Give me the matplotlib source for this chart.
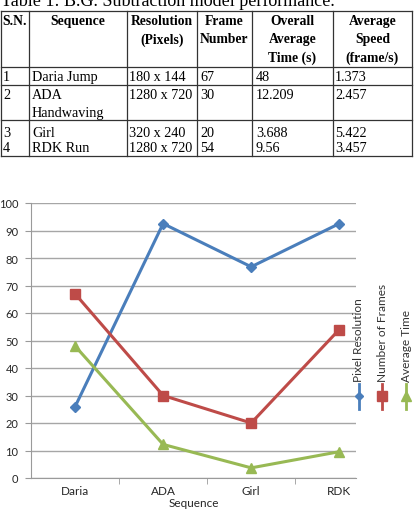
import numpy as np
import matplotlib
matplotlib.use("Agg")
import matplotlib.pyplot as plt
from matplotlib.lines import Line2D

# table data
title = "Table 1: B.G. Subtraction model performance."
headers = ["S.N.", "Sequence", "Resolution\n(Pixels)", "Frame\nNumber",
           "Overall\nAverage\nTime (s)", "Average\nSpeed\n(frame/s)"]
sn = ["1", "2", "3", "4"]
seq_names = ["Daria Jump", "ADA\nHandwaving", "Girl", "RDK Run"]
resolutions = ["180 x 144", "1280 x 720", "320 x 240", "1280 x 720"]
frame_numbers = ["67", "30", "20", "54"]
avg_times = ["48", "12.209", "3.688", "9.56"]
avg_speeds = ["1.373", "2.457", "5.422", "3.457"]

# chart data
categories = ["Daria", "ADA", "Girl", "RDK"]
pixel_resolution = [25.9, 92.5, 76.8, 92.5]
number_of_frames = [67, 30, 20, 54]
average_time = [48, 12.209, 3.688, 9.56]

W, H = 416, 510
fig = plt.figure(figsize=(W / 100, H / 100), dpi=100)

# ---- table, drawn in pixel coordinates ----
tab = fig.add_axes([0, 1 - 160 / H, 1, 160 / H])
tab.set_xlim(0, W)
tab.set_ylim(160, 0)
tab.axis("off")

serif = "Liberation Serif"
tab.text(1, 6, title, fontsize=13, family=serif, va="baseline", ha="left", clip_on=False)

col_x = [1, 29, 127, 197, 252, 333, 412]
row_y = [12, 68, 86, 121, 157]
lc = "#333333"
for x in col_x:
    tab.plot([x, x], [row_y[0], row_y[-1]], color=lc, lw=0.9)
for y in row_y:
    tab.plot([col_x[0], col_x[-1]], [y, y], color=lc, lw=0.9)

for i, h in enumerate(headers):
    if i == 0:
        tab.text(2, 15, h, fontsize=9.8, family=serif, weight="bold",
                 ha="left", va="top", linespacing=1.5)
    else:
        cx = (col_x[i] + col_x[i + 1]) / 2
        tab.text(cx, 15, h, fontsize=9.8, family=serif, weight="bold",
                 ha="center", va="top", linespacing=1.5)

row_tops = [71, 89, 127, 142]
columns = [sn, seq_names, resolutions, frame_numbers, avg_times, avg_speeds]
text_x = [3, 32, 129, 200, 256, 335]
for c, vals in enumerate(columns):
    for r, v in enumerate(vals):
        tab.text(text_x[c], row_tops[r], v, fontsize=10.2, family=serif,
                 ha="left", va="top", linespacing=1.45)

# ---- line chart ----
left, right, top, bottom = 31, 356, 204, 479
ax = fig.add_axes([left / W, 1 - bottom / H, (right - left) / W, (bottom - top) / H])

blue, red, green = "#4A7EBB", "#BE4B48", "#98B954"
x = np.arange(len(categories))
ax.plot(x, pixel_resolution, color=blue, lw=2.2, marker="D", ms=5)
ax.plot(x, number_of_frames, color=red, lw=2.2, marker="s", ms=7.5)
ax.plot(x, average_time, color=green, lw=2.2, marker="^", ms=7.5)

ax.set_ylim(0, 100)
ax.set_xlim(-0.5, 3.19)
ax.set_yticks(range(0, 101, 10))
ax.yaxis.grid(True, color="#A6A6A6", lw=1)
ax.set_axisbelow(True)
for s in ["top", "right"]:
    ax.spines[s].set_visible(False)
ax.spines["left"].set_color("#9A9A9A")
ax.spines["bottom"].set_color("#9A9A9A")
ax.set_xticks(x)
ax.set_xticklabels(categories)
ax.set_xticks(x[:-1] + 0.5, minor=True)
ax.tick_params(axis="x", which="major", length=0, pad=5)
ax.tick_params(axis="x", which="minor", length=4, color="#9A9A9A")
ax.tick_params(axis="y", length=4, color="#9A9A9A", pad=5)
sans = "Lato"
for lab in ax.get_xticklabels():
    lab.set_family(sans)
    lab.set_fontsize(8.5)
    lab.set_color("#262626")
for lab in ax.get_yticklabels():
    lab.set_family(sans)
    lab.set_fontsize(8)
    lab.set_color("#262626")
ax.set_xlabel("Sequence", family=sans, fontsize=8.5, color="#262626", labelpad=1)

# ---- vertical legend on the right ----
legend_items = [("Pixel Resolution", blue, "D", 4.5, 359),
                ("Number of Frames", red, "s", 7, 382),
                ("Average Time", green, "^", 7, 406)]
for label, col, mk, ms, px in legend_items:
    fx = px / W
    fig.add_artist(Line2D([fx, fx], [1 - 410 / H, 1 - 385 / H], color=col, lw=2,
                          transform=fig.transFigure))
    fig.add_artist(Line2D([fx], [1 - 397 / H], color=col, marker=mk, ms=ms,
                          transform=fig.transFigure))
    fig.text(fx, 1 - 382 / H, label, rotation=90, ha="center", va="bottom",
             family=sans, fontsize=8.6, color="#333333")

fig.savefig("out.png", dpi=100)
